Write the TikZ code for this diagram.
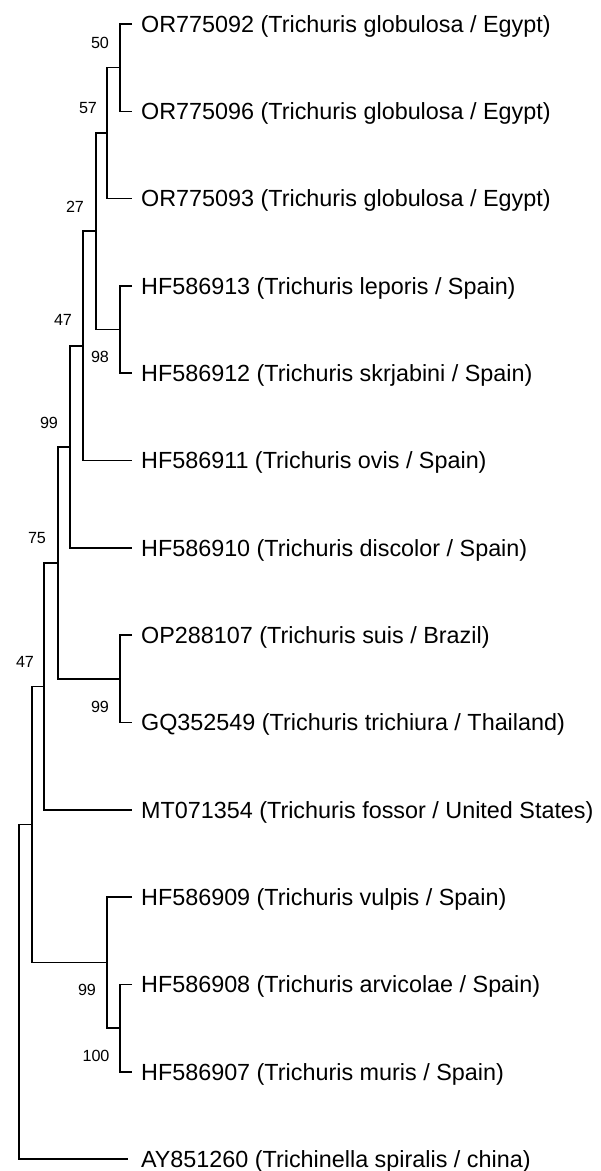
\documentclass[tikz,border=0pt]{standalone}
\usepackage{fontspec}
\setmainfont{Liberation Sans}
\usepackage{tikz}
\usetikzlibrary{positioning}

\begin{document}
\begin{tikzpicture}[
    x=0.02cm, y=-0.02cm,
    branch/.style={line width=0.9pt},
    taxon/.style={anchor=west, inner xsep=5pt, inner ysep=0pt, text height=9.5pt, text depth=0pt, font=\fontsize{13.3}{15}\selectfont},
    boot/.style={inner sep=0pt, font=\fontsize{9.2}{10}\selectfont}
]
\useasboundingbox (0,0) rectangle (601,1171);

\node[taxon] (t1) at (132, 24) {OR775092 (Trichuris globulosa / Egypt)};
\node[taxon] (t2) at (132, 111.3) {OR775096 (Trichuris globulosa / Egypt)};
\node[taxon] (t3) at (132, 198.6) {OR775093 (Trichuris globulosa / Egypt)};
\node[taxon] (t4) at (132, 285.9) {HF586913 (Trichuris leporis / Spain)};
\node[taxon] (t5) at (132, 373.2) {HF586912 (Trichuris skrjabini / Spain)};
\node[taxon] (t6) at (132, 460.6) {HF586911 (Trichuris ovis / Spain)};
\node[taxon] (t7) at (132, 547.9) {HF586910 (Trichuris discolor / Spain)};
\node[taxon] (t8) at (132, 635.2) {OP288107 (Trichuris suis / Brazil)};
\node[taxon] (t9) at (132, 722.5) {GQ352549 (Trichuris trichiura / Thailand)};
\node[taxon] (t10) at (132, 809.8) {MT071354 (Trichuris fossor / United States)};
\node[taxon] (t11) at (132, 897.1) {HF586909 (Trichuris vulpis / Spain)};
\node[taxon] (t12) at (132, 984.4) {HF586908 (Trichuris arvicolae / Spain)};
\node[taxon] (t13) at (132, 1071.7) {HF586907 (Trichuris muris / Spain)};
\node[taxon] (t14) at (128, 1159) {\hspace{2.2pt}AY851260 (Trichinella spiralis / china)};

\coordinate (n50) at (120, 67.7);
\coordinate (n57) at (107, 133);
\coordinate (n98) at (120, 329.5);
\coordinate (n27) at (96, 231);
\coordinate (n47a) at (83, 345.8);
\coordinate (n99a) at (70, 446.8);
\coordinate (n99b) at (120, 678.9);
\coordinate (n75) at (58, 562.8);
\coordinate (n47b) at (44, 686.3);
\coordinate (n100) at (120, 1028);
\coordinate (n99c) at (107, 962.6);
\coordinate (n0) at (32, 824.4);
\coordinate (root) at (19, 991.7);

\draw[branch] (t1.west) -| (n50) |- (t2.west);
\draw[branch] (n50) -| (n57) |- (t3.west);
\draw[branch] (t4.west) -| (n98) |- (t5.west);
\draw[branch] (n57) -| (n27) |- (n98);
\draw[branch] (n27) -| (n47a) |- (t6.west);
\draw[branch] (n47a) -| (n99a) |- (t7.west);
\draw[branch] (t8.west) -| (n99b) |- (t9.west);
\draw[branch] (n99a) -| (n75) |- (n99b);
\draw[branch] (n75) -| (n47b) |- (t10.west);
\draw[branch] (t12.west) -| (n100) |- (t13.west);
\draw[branch] (t11.west) -| (n99c) |- (n100);
\draw[branch] (n47b) -| (n0) |- (n99c);
\draw[branch] (n0) -| (root) |- (t14.west);

\node[boot] (b50) at (100, 43) {50};
\node[boot] (b57) at (88, 108) {57};
\node[boot] (b27) at (75, 207) {27};
\node[boot] (b47a) at (63, 320) {47};
\node[boot] (b98) at (100, 357) {98};
\node[boot] (b99a) at (49, 423) {99};
\node[boot] (b75) at (37, 538) {75};
\node[boot] (b47b) at (25, 662) {47};
\node[boot] (b99b) at (100, 707) {99};
\node[boot] (b99c) at (87, 990) {99};
\node[boot] (b100) at (96, 1056) {100};

\end{tikzpicture}
\end{document}
